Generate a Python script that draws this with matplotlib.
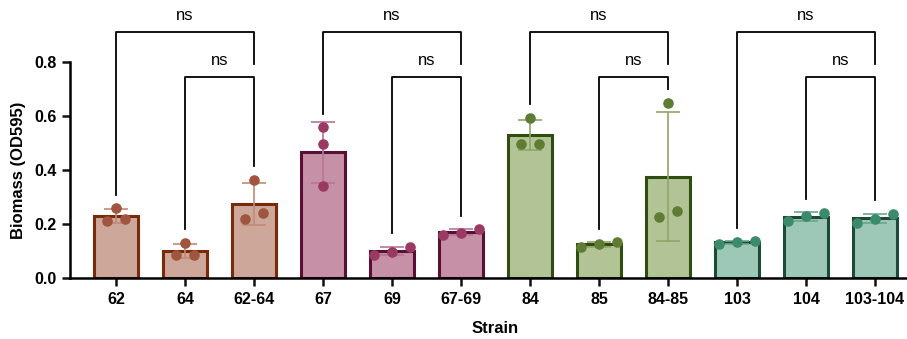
import numpy as np
import matplotlib
matplotlib.use('Agg')
import matplotlib.pyplot as plt

plt.rcParams['font.family'] = ['Liberation Sans', 'DejaVu Sans']

# data
strains = ['62', '64', '62-64', '67', '69', '67-69', '84', '85', '84-85', '103', '104', '103-104']
replicates = [
    [0.259, 0.211, 0.218],
    [0.130, 0.085, 0.085],
    [0.363, 0.218, 0.241],
    [0.559, 0.496, 0.341],
    [0.115, 0.085, 0.096],
    [0.159, 0.181, 0.167],
    [0.593, 0.496, 0.496],
    [0.115, 0.133, 0.126],
    [0.650, 0.227, 0.249],
    [0.126, 0.137, 0.133],
    [0.241, 0.210, 0.230],
    [0.238, 0.205, 0.220],
]
group_of = [0, 0, 0, 1, 1, 1, 2, 2, 2, 3, 3, 3]
fill_colors = ['#cda89a', '#c690a7', '#b2c495', '#9dc7b7']
edge_colors = ['#7a2a0a', '#5a0f35', '#2f4d10', '#1d4a38']
point_colors = ['#a0553f', '#9a3a62', '#5e7d32', '#3b8a6b']
err_colors = ['#c08a78', '#b67792', '#8ea468', '#6aa58e']
# comparisons: (left index, right index, level)
comparisons = [(0, 2, 1), (1, 2, 0), (3, 5, 1), (4, 5, 0),
               (6, 8, 1), (7, 8, 0), (9, 11, 1), (10, 11, 0)]
comp_labels = ['ns'] * len(comparisons)


def swarm_offsets(vals, thresh=0.033, step=0.26):
    order = np.argsort(vals)
    offs = np.zeros(len(vals))
    clusters = [[order[0]]]
    for k in order[1:]:
        if vals[k] - vals[clusters[-1][-1]] < thresh:
            clusters[-1].append(k)
        else:
            clusters.append([k])
    for c in clusters:
        n = len(c)
        for i, k in enumerate(c):
            offs[k] = (i - (n - 1) / 2) * step
    return offs


fig = plt.figure(figsize=(9.07, 3.39), dpi=100)
ax = fig.add_axes([70 / 907, 1 - 278 / 339, 851 / 907, 216 / 339])

x = np.arange(len(strains))
means = [np.mean(r) for r in replicates]
sds = [np.std(r, ddof=1) for r in replicates]

for i in x:
    g = group_of[i]
    ax.bar(i, means[i], width=0.65, color=fill_colors[g], edgecolor=edge_colors[g],
           linewidth=2.2, zorder=2)
    ax.errorbar(i, means[i], yerr=sds[i], color=err_colors[g], capsize=8.5,
                elinewidth=1.2, capthick=1.2, zorder=3)
    vals = np.array(replicates[i])
    ax.scatter(i + swarm_offsets(vals), vals, s=58, color=point_colors[g],
               zorder=4, linewidths=0)

# significance brackets
heights = [0.744, 0.911]
gap = 0.05
for (a, b, lvl), lab in zip(comparisons, comp_labels):
    h = heights[lvl]
    ya = max(replicates[a]) + gap
    if lvl == 1:
        yb = heights[0] + gap
    else:
        yb = max(replicates[b]) + gap
    ax.plot([a, a, b, b], [ya, h, h, yb], color='black', lw=1.3,
            clip_on=False, zorder=5)
    ax.text((a + b) / 2, h + 0.035, lab, ha='center', va='bottom', fontsize=12,
            clip_on=False)

ax.set_xlim(-0.667, 11.667)
ax.set_ylim(0, 0.8)
ax.set_yticks([0.0, 0.2, 0.4, 0.6, 0.8])
ax.set_yticklabels(['0.0', '0.2', '0.4', '0.6', '0.8'])
ax.set_xticks(x)
ax.set_xticklabels(strains)
for lab in ax.get_xticklabels() + ax.get_yticklabels():
    lab.set_fontweight('bold')
    lab.set_fontsize(11.5)
ax.spines['top'].set_visible(False)
ax.spines['right'].set_visible(False)
ax.spines['left'].set_linewidth(1.8)
ax.spines['bottom'].set_linewidth(1.8)
ax.tick_params(axis='both', width=1.8, length=6, color='#111111')
ax.tick_params(axis='x', pad=4)
ax.set_ylabel('Biomass (OD595)', fontsize=12, fontweight='bold', labelpad=6)
ax.set_xlabel('Strain', fontsize=12, fontweight='bold', labelpad=6)
ax.xaxis.set_label_coords((495 - 70) / 851, -0.2)

fig.savefig('out.png', dpi=100)
